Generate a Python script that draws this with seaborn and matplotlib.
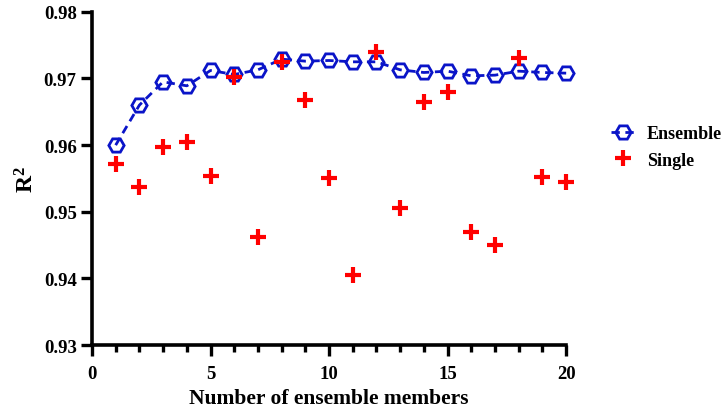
import matplotlib
matplotlib.use("Agg")
import matplotlib.pyplot as plt
import seaborn as sns
import pandas as pd
from matplotlib.ticker import MultipleLocator
from matplotlib.lines import Line2D

members = list(range(1, 21))
ensemble_r2 = [0.9600, 0.9660, 0.9695, 0.9689, 0.9712, 0.9706, 0.9713, 0.9729, 0.9726, 0.9727,
               0.9725, 0.9725, 0.9713, 0.9709, 0.9711, 0.9704, 0.9705, 0.9711, 0.9709, 0.9708]
single_r2 = [0.9571, 0.9537, 0.9597, 0.9604, 0.9554, 0.9702, 0.9462, 0.9724, 0.9668, 0.9550,
             0.9405, 0.9740, 0.9506, 0.9664, 0.9679, 0.9469, 0.9450, 0.9731, 0.9552, 0.9544]
x_ticks = [0, 5, 10, 15, 20]
y_ticks = [0.93, 0.94, 0.95, 0.96, 0.97, 0.98]

sns.set_style("ticks")
plt.rcParams['font.family'] = ['Liberation Serif', 'DejaVu Serif']
plt.rcParams['font.weight'] = 'bold'
plt.rcParams['mathtext.fontset'] = 'custom'
plt.rcParams['mathtext.bf'] = 'Liberation Serif:bold'
plt.rcParams['mathtext.rm'] = 'Liberation Serif:bold'
for k in ['axes.edgecolor', 'xtick.color', 'ytick.color', 'text.color', 'axes.labelcolor']:
    plt.rcParams[k] = 'black'

df = pd.DataFrame({"members": members, "ensemble": ensemble_r2, "single": single_r2})

fig = plt.figure(figsize=(7.24, 4.14), dpi=100)
ax = fig.add_axes([0.127, 0.164, 0.655, 0.805])

blue = "#0a14c8"
red = "#ff0000"

sns.lineplot(data=df, x="members", y="ensemble", ax=ax, color=blue, linewidth=2,
             linestyle=(0, (3, 2)), marker="H", markersize=11, markerfacecolor="none",
             markeredgecolor=blue, markeredgewidth=2, zorder=3, clip_on=False)
sns.scatterplot(data=df, x="members", y="single", ax=ax, color=red, marker="+",
                s=120, linewidth=3, zorder=4, clip_on=False)

ax.set_xlim(0, 20)
ax.set_ylim(0.93, 0.98)
ax.set_xticks(x_ticks)
ax.set_yticks(y_ticks)
ax.xaxis.set_minor_locator(MultipleLocator(1))
ax.set_xticklabels([str(t) for t in x_ticks], fontsize=13.5, fontweight='bold')
ax.set_yticklabels([f"{t:.2f}" for t in y_ticks], fontsize=13.5, fontweight='bold')
ax.tick_params(axis='both', which='major', length=8, width=2.4, direction='out', pad=3)
ax.tick_params(axis='x', which='major', pad=6)
ax.tick_params(axis='x', which='minor', length=5, width=2.4, direction='out')
for s in ['left', 'bottom']:
    ax.spines[s].set_linewidth(2.6)
for s in ['top', 'right']:
    ax.spines[s].set_visible(False)

ax.set_xlabel("Number of ensemble members", fontsize=15.5, fontweight='bold', labelpad=5)
ax.set_ylabel(r"$\mathbf{R^2}$", fontsize=17)
ax.yaxis.set_label_coords(-0.113, 0.5)

handles = [
    Line2D([], [], color=blue, linewidth=2, linestyle=(0, (3, 2)), marker="H", markersize=11,
           markerfacecolor="none", markeredgecolor=blue, markeredgewidth=2),
    Line2D([], [], color=red, linestyle="none", marker="+", markersize=11, markeredgewidth=3),
]
leg = ax.legend(handles, ["Ensemble", "Single"], loc="center left", bbox_to_anchor=(1.06, 0.595),
                frameon=False, prop={'family': 'Liberation Serif', 'weight': 'bold', 'size': 13},
                handlelength=1.3, handletextpad=0.7, labelspacing=0.55)

fig.savefig("out.png", dpi=100)
